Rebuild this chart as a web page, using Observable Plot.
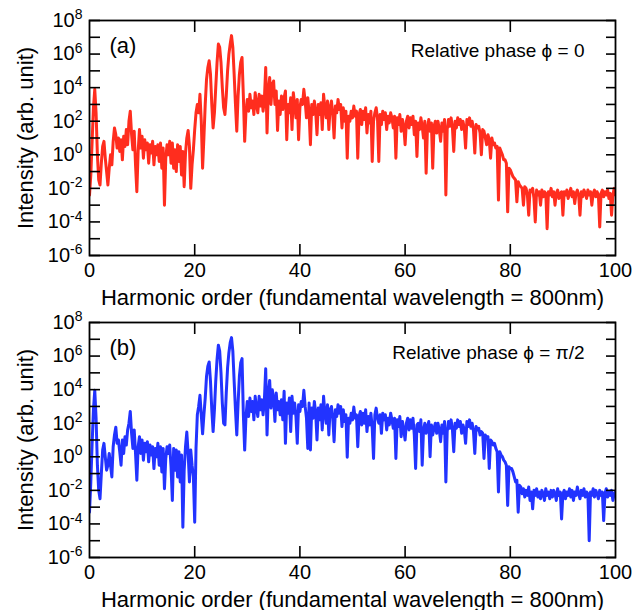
<!DOCTYPE html>
<html>
<head>
<meta charset="utf-8">
<script src="https://cdn.jsdelivr.net/npm/d3@7"></script>
<script src="https://cdn.jsdelivr.net/npm/@observablehq/plot@0.6"></script>
<style>
  html, body { margin: 0; padding: 0; background: #fff; }
  #chart svg { display: block; overflow: visible; }
</style>
</head>
<body>
<div id="chart"></div>
<script>
// Harmonic order sampled every 0.25 from 0 to 100
const harmonicStep = 0.25;

// log10 of intensity (arb. unit), panel (a): relative phase 0
const logIntensityA = [
  -2.4, -1.2, 0.8, 2.8,   3.9, 2.5, 0.0, -1.5,   -1.8, -0.5, 0.5, 0.8,   -0.2, -1.0, -1.8, -0.8,
  0.0, -0.6, 0.8, 1.6,    1.2, 0.4, 1.0, 0.2,    0.9, -0.3, 1.1, 0.5,    1.5, 0.6, 2.0, 2.6,
  1.2, 0.3, 1.4, -0.6,    -2.2, 0.2, 1.5, 0.4,   1.1, -0.2, 0.9, 0.3,    0.7, -0.5, 0.6, 0.1,
  0.8, -0.6, 0.5, 0.0,    0.6, -0.4, 0.7, -0.8,  0.4, -3.0, -0.2, 0.6,   0.0, 0.8, -0.5, 0.7,
  -0.8, 0.3, -1.0, 0.6,   -0.4, 0.5, -1.2, 0.2,  -1.9, 0.1, 1.0, 1.45,   0.5, -2.0, -0.6, 0.3,
  1.5, 2.5, 3.0, 2.5,     3.6, 2.0, -0.8, 1.0,   3.0, 4.5, 5.2, 5.6,     4.8, 3.0, 1.6, 2.5,
  4.0, 5.5, 6.6, 6.4,     5.5, 4.0, 2.8, 2.4,    3.5, 5.0, 6.0, 6.6,     7.1, 6.4, 4.8, 3.0,
  1.4, 3.5, 4.8, 5.5,     5.8, 3.5, 0.8, 2.6,    3.3, 2.6, 3.6, 2.8,     3.2, 2.4, 3.7, 3.0,
  2.5, 3.6, 2.9, 3.5,     2.6, 3.3, 5.2, 1.3,    3.8, 4.6, 3.0, 4.2,     4.4, 3.0, 3.8, 1.45,
  3.2, 2.4, 3.5, 2.7,     3.4, 3.8, 0.9, 3.0,    2.5, 3.4, 1.5, 3.7,     3.0, 2.2, 3.3, 0.9,
  2.8, 3.3, 3.0, 3.9,     3.2, 2.2, 3.4, 2.5,    0.6, 3.0, 2.4, 3.2,     2.6, 1.2, 3.0, 2.4,
  3.1, 1.5, 3.6, 2.8,     2.2, 3.2, 1.5, 2.8,    3.2, 2.4, 1.0, 2.9,     2.5, 3.3, 2.7, 3.0,
  1.6, 2.8, 2.0, 2.6,     -0.2, 2.3, 2.0, 2.6,   2.2, 2.9, 2.3, 2.6,     -0.2, 2.4, 2.7, 1.8,
  2.6, 2.1, 2.8, 1.3,     2.4, 1.9, 2.6, -0.4,   2.0, 2.5, 2.8, 2.2,     -0.4, 2.4, 1.8, 2.6,
  2.1, 2.5, 1.5, 2.3,     1.9, 2.5, 2.2, 1.6,    2.3, -0.2, 2.2, 1.8,    2.4, 1.4, 2.1, 1.7,
  0.6, 2.0, 2.3, 1.6,     2.2, 1.8, 2.3, 1.2,    2.0, -0.1, 1.9, 1.5,    2.2, 1.7, 1.0, 2.0,
  -1.1, 1.6, 2.1, 1.4,    1.9, -0.8, 1.7, 2.0,   1.3, 2.0, 1.5, 0.8,     1.9, 1.4, 2.1, -2.4,
  1.5, 2.1, 1.7, 2.2,     1.6, 0.2, 2.0, 1.6,    2.2, 1.8, 2.1, 1.5,     2.0, 1.6, 0.4, 2.1,
  1.8, 2.2, 1.7, 2.0,     1.5, 0.1, 1.8, 1.6,    1.7, 1.3, 0.0, 1.5,     1.4, 1.0, 0.6, 1.2,
  0.9, -0.2, 1.0, 0.6,    0.7, 0.4, 0.5, -2.7,   0.4, 0.2, 0.0, -0.3,    -0.3, -0.5, -3.4, -0.8,
  -0.9, -1.1, -1.3, -1.4, -1.5, -2.8, -1.6, -1.8, -1.9, -2.0, -3.0, -1.9, -2.0, -2.4, -3.6, -2.1,
  -2.2, -2.0, -2.6, -4.0, -2.1, -2.4, -2.2, -3.0, -2.1, -2.5, -2.2, -2.3, -4.4, -2.2, -2.4, -2.0,
  -2.5, -2.2, -3.0, -2.3, -2.1, -2.6, -2.3, -2.2, -3.6, -2.2, -2.4, -2.1, -2.6, -2.3, -2.0, -2.5,
  -2.2, -2.9, -2.3, -2.1, -2.4, -3.6, -2.2, -2.5, -2.1, -2.3, -2.6, -2.1, -2.4, -2.2, -3.0, -2.3,
  -2.1, -2.5, -2.2, -2.4, -4.3, -2.3, -2.1, -2.5, -2.2, -2.4, -2.1, -2.6, -2.3, -3.6, -2.4, -2.0,
  -2.4
];

// log10 of intensity (arb. unit), panel (b): relative phase pi/2
const logIntensityB = [
  -3.3, -1.5, 0.8, 2.8,   3.96, 2.3, -0.5, -2.0, -2.5, -1.0, 0.4, 0.8,   0.0, -0.8, -0.5, 0.2,
  -0.5, -1.2, 0.6, 1.3,   1.76, 0.8, 1.0, 0.3,   -0.5, 1.0, 0.2, 1.2,    0.7, 1.6, 2.0, 2.7,
  1.4, 0.5, 1.6, 0.2,     -1.4, 0.6, 1.2, 0.2,   1.0, -0.2, 0.8, 0.3,    0.9, -0.3, 0.7, 0.1,
  0.6, -0.7, 0.5, 0.0,    0.8, -0.5, 0.6, -0.9,  0.5, -1.9, -0.1, 0.6,   0.2, 0.7, -0.6, -2.6,
  0.5, -0.8, 0.4, -1.2,   0.3, -1.5, 0.1, -4.2,  -0.8, 0.6, 1.47, 0.2,   -1.5, 0.4, -0.5, -1.2,
  -3.9, 0.5, 2.5, 3.0,    3.66, 2.5, 1.37, 2.5,  3.5, 4.8, 5.4, 5.65,    4.5, 2.8, 1.5, 2.8,
  4.5, 5.8, 6.65, 6.3,    5.0, 3.2, 2.0, 1.9,    3.8, 5.3, 6.2, 6.8,     7.1, 6.3, 4.5, 2.8,
  1.3, 3.2, 4.8, 5.6,     5.85, 2.5, 0.4, 2.4,   3.3, 2.4, 3.5, 2.7,     3.3, 2.2, 3.6, 2.9,
  2.4, 3.6, 2.8, 3.4,     2.5, 3.4, 5.25, 1.3,   3.7, 4.55, 2.9, 4.0,    3.5, 2.1, 3.8, 2.8,
  3.3, 2.5, 3.4, 2.2,     3.9, 0.8, 3.2, 2.6,    3.5, 1.5, 3.6, 2.6,     3.2, 2.4, 0.8, 3.1,
  2.7, 3.3, 3.0, 3.96,    3.0, 2.3, 0.5, 3.2,    0.4, 2.9, 2.3, 3.3,     2.6, 1.0, 2.9, 2.2,
  3.1, 1.6, 3.6, 2.6,     2.0, 3.1, 1.3, 2.8,    3.0, 2.3, 0.9, 2.8,     2.4, 3.1, 2.6, 3.0,
  1.8, 2.8, 2.1, 2.5,     -0.03, 2.3, 2.0, 2.6,  2.2, 2.96, 2.3, 2.5,    0.6, 2.4, 2.7, 1.9,
  2.6, 2.0, 2.8, 1.5,     2.4, 1.9, 2.6, 1.7,    -0.1, 2.5, 2.9, 2.3,    2.0, 2.5, 1.4, 2.6,
  2.2, 2.5, 1.6, 2.3,     1.9, 2.6, 2.2, 1.7,    2.3, -0.1, 2.2, 1.8,    2.4, 1.2, 2.1, 1.6,
  1.0, 2.0, 2.3, 1.6,     2.2, 1.7, 2.3, 1.3,    -0.7, 1.9, 2.0, 1.5,    2.2, -0.5, 1.6, 2.0,
  1.4, 1.8, 2.1, 0.0,     1.9, 1.3, 1.7, 2.0,    1.4, 2.0, 1.6, 0.9,     1.9, 1.4, 2.1, -1.5,
  1.5, 2.1, 1.7, 2.2,     1.6, 0.3, 2.0, 1.7,    2.2, 1.8, 2.1, 1.4,     1.9, 1.6, 0.8, 2.1,
  1.8, 2.2, 1.7, 2.0,     1.5, 0.2, 1.8, 1.6,    1.7, 1.3, 1.5, 1.4,     -0.1, 1.3, 1.1, 1.2,
  -0.7, 1.0, 0.9, 0.7,    0.8, 0.5, 0.3, -2.1,   0.3, 0.1, 0.0, -0.2,    -0.3, -0.5, -2.9, -0.6,
  -0.7, -0.7, -0.9, -1.2, -1.5, -1.4, -3.3, -1.7, -1.8, -2.2, -1.9, -2.4, -2.0, -2.3, -1.8, -2.6,
  -2.1, -3.1, -2.0, -2.3, -1.9, -2.4, -2.1, -2.5, -2.0, -2.2, -2.6, -1.9, -2.3, -2.1, -2.5, -2.0,
  -2.4, -2.0, -2.2, -2.6, -1.9, -2.3, -2.1, -3.7, -2.2, -2.0, -2.5, -2.1, -2.3, -1.9, -2.4, -2.0,
  -2.6, -2.1, -2.3, -1.8, -2.2, -2.5, -2.0, -2.3, -1.9, -2.4, -2.1, -2.2, -5.0, -2.1, -2.3, -1.9,
  -2.4, -2.0, -2.2, -2.5, -2.0, -2.3, -2.1, -3.8, -2.2, -1.9, -2.4, -2.1, -2.3, -2.0, -2.6, -2.2,
  -2.1
];

const xTickValues = [0, 20, 40, 60, 80, 100];
const xInnerTicks = [20, 40, 60, 80];
const yDecadeTicks = [1e-6, 1e-5, 1e-4, 1e-3, 1e-2, 1e-1, 1, 1e1, 1e2, 1e3, 1e4, 1e5, 1e6, 1e7, 1e8];
const yLabelTicks = [1e-6, 1e-4, 1e-2, 1, 1e2, 1e4, 1e6, 1e8];

const panelTags = ["(a)", "(b)"];
const phaseLabels = ["Relative phase \u03D5 = 0", "Relative phase \u03D5 = \u03C0/2"];
const lineColors = ["#ff2d1e", "#2233ff"];
const yTitle = "Intensity (arb. unit)";
const xTitle = "Harmonic order (fundamental wavelength = 800nm)";

const FONT = "'Liberation Sans', Arial, Helvetica, sans-serif";

function makePanel(values, idx, height, marginTop, marginBottom) {
  const data = values.map((v, i) => ({h: i * harmonicStep, I: Math.pow(10, v)}));
  const svg = Plot.plot({
    width: 642,
    height,
    marginLeft: 89,
    marginRight: 27,
    marginTop,
    marginBottom,
    style: {fontFamily: FONT, fontSize: "20px", background: "transparent", color: "black", overflow: "visible"},
    x: {domain: [0, 100]},
    y: {type: "log", domain: [1e-6, 1e8]},
    marks: [
      Plot.line(data, {x: "h", y: "I", stroke: lineColors[idx], strokeWidth: 3, clip: true}),
      Plot.axisY({ticks: yDecadeTicks, anchor: "left", tickSize: -11, strokeWidth: 1.6, fill: "none", label: null}),
      Plot.axisY({ticks: yDecadeTicks, anchor: "right", tickSize: -10, strokeWidth: 1.6, fill: "none", label: null}),
      Plot.axisY({ticks: yLabelTicks, anchor: "left", tickSize: 0, tickPadding: 7, label: null,
        tickFormat: d => "10^" + Math.round(Math.log10(d))}),
      Plot.axisX({ticks: xInnerTicks, anchor: "bottom", tickSize: -11, strokeWidth: 1.6, fill: "none", label: null}),
      Plot.axisX({ticks: xInnerTicks, anchor: "top", tickSize: -11, strokeWidth: 1.6, fill: "none", label: null}),
      Plot.axisX({ticks: xTickValues, anchor: "bottom", tickSize: 0, tickPadding: 7, label: null, tickFormat: d => String(d)}),
      Plot.frame({stroke: "black", strokeWidth: 1.8}),
      Plot.text([panelTags[idx]], {frameAnchor: "top-left", dx: 20, dy: 17, textAnchor: "start", lineAnchor: "top", fontSize: 22}),
      Plot.text([phaseLabels[idx]], {frameAnchor: "top-right", dx: -31, dy: 23, textAnchor: "end", lineAnchor: "top", fontSize: 19}),
      Plot.text([yTitle], {frameAnchor: "left", dx: -64, rotate: -90, textAnchor: "middle", lineAnchor: "middle", fontSize: 22}),
      Plot.text([xTitle], {frameAnchor: "bottom", dy: 42, textAnchor: "middle", lineAnchor: "middle", fontSize: 22})
    ]
  });
  // turn "10^n" tick labels into superscripts
  d3.select(svg).selectAll('g[aria-label="y-axis tick label"] text').each(function () {
    const t = this.textContent;
    if (!t.includes("^")) return;
    const [base, exp] = t.split("^");
    const sel = d3.select(this);
    sel.text(null);
    sel.append("tspan").text(base);
    sel.append("tspan").attr("dy", "-0.55em").attr("font-size", "14px").text(exp);
  });
  return svg;
}

const chart = document.getElementById("chart");
chart.appendChild(makePanel(logIntensityA, 0, 311, 20, 56));
chart.appendChild(makePanel(logIntensityB, 1, 299, 11, 53));
</script>
</body>
</html>
